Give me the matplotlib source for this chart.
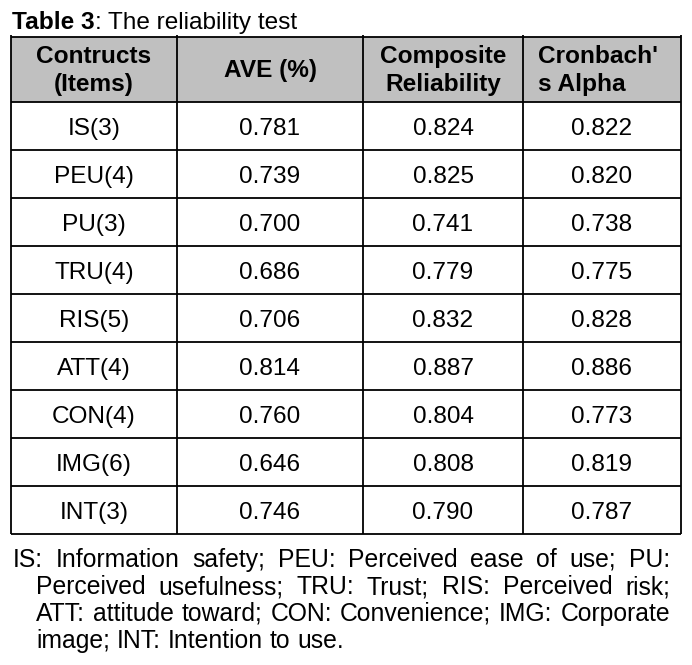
import matplotlib
matplotlib.use("Agg")
import matplotlib.pyplot as plt
from matplotlib import font_manager

constructs = ["IS(3)", "PEU(4)", "PU(3)", "TRU(4)", "RIS(5)", "ATT(4)", "CON(4)", "IMG(6)", "INT(3)"]
ave = ["0.781", "0.739", "0.700", "0.686", "0.706", "0.814", "0.760", "0.646", "0.746"]
comp_rel = ["0.824", "0.825", "0.741", "0.779", "0.832", "0.887", "0.804", "0.808", "0.790"]
cronbach = ["0.822", "0.820", "0.738", "0.775", "0.828", "0.886", "0.773", "0.819", "0.787"]
foot_lines = ["IS: Information safety; PEU: Perceived ease of use; PU:",
              "Perceived usefulness; TRU: Trust; RIS: Perceived risk;",
              "ATT: attitude toward; CON: Convenience; IMG: Corporate",
              "image; INT: Intention to use."]

names = [f.name for f in font_manager.fontManager.ttflist]
narrow = "Liberation Sans Narrow" if "Liberation Sans Narrow" in names else "Liberation Sans"
plt.rcParams["font.family"] = ["Liberation Sans", "DejaVu Sans"]

W, H = 692, 665
fig = plt.figure(figsize=(W / 100, H / 100), dpi=100)
ax = fig.add_axes([0, 0, 1, 1])
ax.set_xlim(0, W)
ax.set_ylim(H, 0)
ax.axis("off")

fs = 17.6
colx = [11, 177, 363, 523, 681]
top, head_bot, row_h = 37, 102, 48
bottom = head_bot + row_h * len(constructs)

fig.canvas.draw()
r = fig.canvas.get_renderer()

# title
t1 = ax.text(12, 29, "Table 3", fontsize=fs, fontweight="bold", va="baseline", ha="left")
bb = t1.get_window_extent(r)
ax.text(12 + bb.width, 29, ": The reliability test", fontsize=fs, va="baseline", ha="left")

# header
ax.fill_between([colx[0], colx[-1]], top, head_bot, color="#c0c0c0", lw=0)
hy1, hy2, hym = 63, 91, 77
hk = dict(fontsize=fs, fontweight="bold", va="baseline")
ax.text((colx[0] + colx[1]) / 2, hy1, "Contructs", ha="center", **hk)
ax.text((colx[0] + colx[1]) / 2, hy2, "(Items)", ha="center", **hk)
ax.text((colx[1] + colx[2]) / 2, hym, "AVE (%)", ha="center", **hk)
ax.text((colx[2] + colx[3]) / 2, hy1, "Composite", ha="center", **hk)
ax.text((colx[2] + colx[3]) / 2, hy2, "Reliability", ha="center", **hk)
ax.text(colx[3] + 15, hy1, "Cronbach'", ha="left", **hk)
ax.text(colx[3] + 15, hy2, "s Alpha", ha="left", **hk)

# body
cols = [constructs, ave, comp_rel, cronbach]
for i in range(len(constructs)):
    yb = head_bot + row_h * i + 33
    for j, col in enumerate(cols):
        ax.text((colx[j] + colx[j + 1]) / 2, yb, col[i], fontsize=fs, ha="center", va="baseline")

# grid lines
lw = 1.3
for k in range(len(constructs) + 2):
    y = top if k == 0 else head_bot + row_h * (k - 1)
    ax.plot([colx[0], colx[-1]], [y, y], color="black", lw=lw, solid_capstyle="butt")
for x in colx:
    ax.plot([x, x], [top - 2, bottom], color="black", lw=lw, solid_capstyle="butt")

# justified footnote
ffs = 17.8
ffam = [narrow, "Liberation Sans"]
def wwidth(s):
    t = ax.text(0, 0, s, fontsize=ffs, family=ffam)
    w = t.get_window_extent(r).width
    t.remove()
    return w
space = wwidth("a b") - wwidth("ab")
left0, indent, right = 13, 36, 670
ly = 567
for li, line in enumerate(foot_lines):
    words = line.split(" ")
    widths = [wwidth(w) for w in words]
    lstart = left0 if li == 0 else indent
    last = li == len(foot_lines) - 1
    gap = space if last else (right - lstart - sum(widths)) / (len(words) - 1)
    x = lstart
    for w, wd in zip(words, widths):
        ax.text(x, ly, w, fontsize=ffs, family=ffam, ha="left", va="baseline")
        x += wd + gap
    ly += 27

fig.savefig("out.png", dpi=100)
